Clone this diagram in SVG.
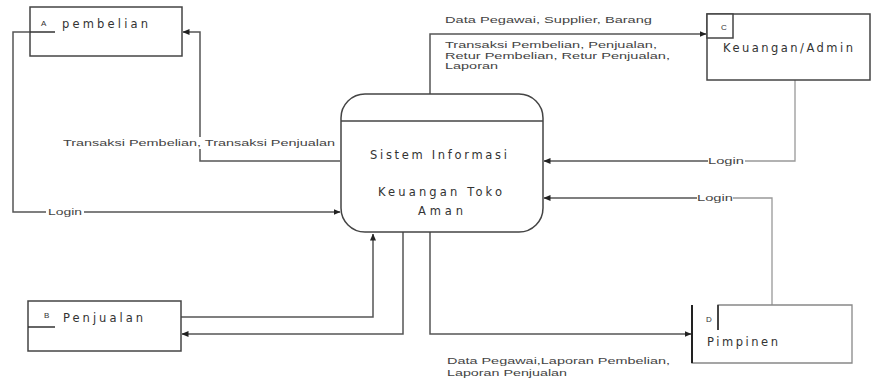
<svg xmlns="http://www.w3.org/2000/svg" width="872" height="381" viewBox="0 0 872 381">
<style>
.bx{fill:#fff;stroke:#444;stroke-width:1.5}
.ln{fill:none;stroke:#555;stroke-width:1.5}
.lt{fill:none;stroke:#999;stroke-width:1.3}
.nt{font-family:"DejaVu Sans","Liberation Sans",Arial,sans-serif;font-size:11.5px;fill:#333}
.lb{font-family:"Liberation Sans",Arial,sans-serif;font-size:9px;fill:#444}
.sm{font-family:"Liberation Sans",Arial,sans-serif;font-size:8px;fill:#333}
.bg{fill:#fff}
</style>
<defs>
<marker id="ah" markerWidth="7" markerHeight="6" refX="6.5" refY="3" orient="auto" markerUnits="userSpaceOnUse">
<path d="M0,0 L7,3 L0,6 Z" fill="#222"/>
</marker>
</defs>
<rect width="872" height="381" fill="#fff"/>
<g id="connectors">
<path class="ln" d="M30,32 H13 V212 H340" marker-end="url(#ah)"/>
<path class="ln" d="M340,161 H200 V32 H183" marker-end="url(#ah)"/>
<path class="ln" d="M430,94 V34 H706" marker-end="url(#ah)"/>
<path class="lt" d="M795,80 V161 H745"/>
<path class="ln" d="M708,161 H544" marker-end="url(#ah)"/>
<path class="lt" d="M772,305 V198 H733"/>
<path class="ln" d="M697,198 H544" marker-end="url(#ah)"/>
<path class="ln" d="M430,232 V334 H691" marker-end="url(#ah)"/>
<path class="ln" d="M181,317 H373 V234" marker-end="url(#ah)"/>
<path class="ln" d="M403,232 V334 H182" marker-end="url(#ah)"/>
<rect class="bg" x="46" y="207" width="38" height="10"/>
<text class="lb" x="48" y="215" textLength="34" lengthAdjust="spacingAndGlyphs">Login</text>
<rect class="bg" x="62" y="137" width="276" height="12"/>
<text class="lb" x="63" y="146" textLength="272" lengthAdjust="spacingAndGlyphs">Transaksi Pembelian, Transaksi Penjualan</text>
<text class="lb" x="445" y="23" textLength="207" lengthAdjust="spacingAndGlyphs">Data Pegawai, Supplier, Barang</text>
<text class="lb" x="445" y="48" textLength="212" lengthAdjust="spacingAndGlyphs">Transaksi Pembelian, Penjualan,</text>
<text class="lb" x="445" y="59" textLength="225" lengthAdjust="spacingAndGlyphs">Retur Pembelian, Retur Penjualan,</text>
<text class="lb" x="445" y="69" textLength="53" lengthAdjust="spacingAndGlyphs">Laporan</text>
<text class="lb" x="708" y="164" textLength="36" lengthAdjust="spacingAndGlyphs">Login</text>
<text class="lb" x="697" y="201" textLength="36" lengthAdjust="spacingAndGlyphs">Login</text>
<text class="lb" x="447" y="364" textLength="223" lengthAdjust="spacingAndGlyphs">Data Pegawai,Laporan Pembelian,</text>
<text class="lb" x="447" y="376" textLength="120" lengthAdjust="spacingAndGlyphs">Laporan Penjualan</text>
</g>
<g id="nodeA">
<rect class="bx" x="30" y="7" width="152" height="49"/>
<line x1="30" y1="32" x2="55" y2="32" stroke="#333" stroke-width="1.5"/>
<text class="sm" x="41" y="26">A</text>
<text class="nt" x="62" y="28" textLength="86" lengthAdjust="spacing">pembelian</text>
</g>
<g id="nodeB">
<rect class="bx" x="28" y="301" width="153" height="50"/>
<line x1="28" y1="327" x2="55" y2="327" stroke="#333" stroke-width="1.5"/>
<text class="sm" x="44" y="318" font-size="7">B</text>
<text class="nt" x="63" y="322" textLength="80" lengthAdjust="spacing">Penjualan</text>
</g>
<g id="nodeC">
<rect class="bx" x="707" y="14" width="163" height="66"/>
<rect class="bx" x="707" y="14" width="26" height="24"/>
<text class="sm" x="721" y="30">C</text>
<text class="nt" x="723" y="52" textLength="130" lengthAdjust="spacing">Keuangan/Admin</text>
</g>
<g id="nodeD">
<path d="M718,330 V305 H852 V363 H692 V305" fill="none" stroke="#888" stroke-width="1.3"/>
<line x1="692" y1="305" x2="692" y2="363" stroke="#222" stroke-width="2"/>
<line x1="718" y1="305" x2="718" y2="330" stroke="#222" stroke-width="1.5"/>
<text class="sm" x="706" y="322">D</text>
<text class="nt" x="707" y="346" textLength="71" lengthAdjust="spacing">Pimpinen</text>
</g>
<g id="central">
<rect class="bx" x="341" y="94" width="202" height="138" rx="24" ry="24"/>
<line x1="341" y1="121" x2="543" y2="121" stroke="#444" stroke-width="1.5"/>
<text class="nt" x="370" y="159" textLength="137" lengthAdjust="spacing">Sistem Informasi</text>
<text class="nt" x="378" y="196" textLength="124" lengthAdjust="spacing">Keuangan Toko</text>
<text class="nt" x="418" y="215" textLength="45" lengthAdjust="spacing" font-size="10">Aman</text>
</g>
</svg>
